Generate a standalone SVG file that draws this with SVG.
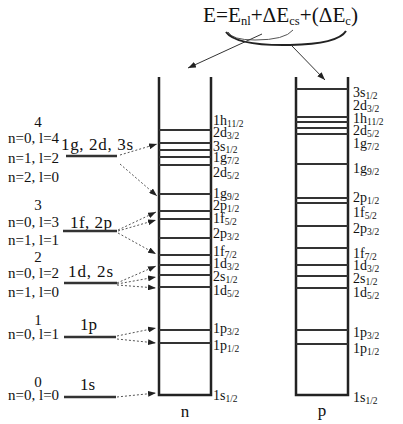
<svg xmlns="http://www.w3.org/2000/svg" width="403" height="424" viewBox="0 0 403 424">
<style>
text{font-family:"Liberation Serif","Times New Roman",serif;fill:#111}
.lv{font-size:14px}
.sb{font-size:9.5px}
.lf{font-size:15px}
.wall{stroke:#222;stroke-width:2.5;fill:none}
.lev{stroke:#333;stroke-width:2}
.osc{stroke:#333;stroke-width:2.5}
.dot{stroke:#555;stroke-width:1;stroke-dasharray:2,2;fill:none}
.sol{stroke:#333;stroke-width:1;fill:none}
</style>
<defs>
<marker id="ah" markerWidth="8" markerHeight="6" refX="8" refY="3" orient="auto" markerUnits="userSpaceOnUse">
<path d="M0,0 L8,3 L0,6 z" fill="#222"/>
</marker>
</defs>
<g id="formula">
<text x="203" y="22" font-size="22" textLength="155" lengthAdjust="spacingAndGlyphs">E=E<tspan font-size="13" dy="3">nl</tspan><tspan dy="-3">+ΔE</tspan><tspan font-size="13" dy="3">cs</tspan><tspan dy="-3">+(ΔE</tspan><tspan font-size="13" dy="3">c</tspan><tspan dy="-3">)</tspan></text>
<path d="M228,32 Q232,40 255,40 Q285,40 293,30" stroke="#555" stroke-width="1" fill="none"/>
<path d="M226,32 Q236,46 290,45 Q338,44 346,31" stroke="#222" stroke-width="2" fill="none"/>
</g>
<g id="n-well">
<path class="wall" d="M159,77 V395 H211 V77"/>
<g class="lev">
<line x1="159" y1="130" x2="211" y2="130"/><line x1="159" y1="143" x2="211" y2="143"/>
<line x1="159" y1="150" x2="211" y2="150"/><line x1="159" y1="157" x2="211" y2="157"/>
<line x1="159" y1="165" x2="211" y2="165"/><line x1="159" y1="194" x2="211" y2="194"/>
<line x1="159" y1="211" x2="211" y2="211"/><line x1="159" y1="219" x2="211" y2="219"/>
<line x1="159" y1="238" x2="211" y2="238"/><line x1="159" y1="255" x2="211" y2="255"/>
<line x1="159" y1="265" x2="211" y2="265"/><line x1="159" y1="275" x2="211" y2="275"/>
<line x1="159" y1="287" x2="211" y2="287"/><line x1="159" y1="330" x2="211" y2="330"/>
<line x1="159" y1="343" x2="211" y2="343"/>
</g>
<g class="lv">
<text x="213" y="125">1h<tspan class="sb" dy="2">11/2</tspan></text>
<text x="213" y="137">2d<tspan class="sb" dy="2">3/2</tspan></text>
<text x="213" y="151">3s<tspan class="sb" dy="2">1/2</tspan></text>
<text x="213" y="162">1g<tspan class="sb" dy="2">7/2</tspan></text>
<text x="213" y="177">2d<tspan class="sb" dy="2">5/2</tspan></text>
<text x="213" y="198">1g<tspan class="sb" dy="2">9/2</tspan></text>
<text x="213" y="210">2p<tspan class="sb" dy="2">1/2</tspan></text>
<text x="213" y="223">1f<tspan class="sb" dy="2">5/2</tspan></text>
<text x="213" y="238">2p<tspan class="sb" dy="2">3/2</tspan></text>
<text x="213" y="256">1f<tspan class="sb" dy="2">7/2</tspan></text>
<text x="213" y="268">1d<tspan class="sb" dy="2">3/2</tspan></text>
<text x="213" y="281">2s<tspan class="sb" dy="2">1/2</tspan></text>
<text x="213" y="295">1d<tspan class="sb" dy="2">5/2</tspan></text>
<text x="213" y="333">1p<tspan class="sb" dy="2">3/2</tspan></text>
<text x="213" y="350">1p<tspan class="sb" dy="2">1/2</tspan></text>
<text x="213" y="400">1s<tspan class="sb" dy="2">1/2</tspan></text>
</g>
<text x="185" y="417" font-size="17" text-anchor="middle">n</text>
</g>
<g id="p-well">
<path class="wall" d="M296,77 V395 H348 V77"/>
<g class="lev">
<line x1="296" y1="89" x2="348" y2="89"/><line x1="296" y1="117" x2="348" y2="117"/>
<line x1="296" y1="122" x2="348" y2="122"/><line x1="296" y1="128" x2="348" y2="128"/>
<line x1="296" y1="134" x2="348" y2="134"/><line x1="296" y1="164" x2="348" y2="164"/>
<line x1="296" y1="198" x2="348" y2="198"/><line x1="296" y1="203" x2="348" y2="203"/>
<line x1="296" y1="226" x2="348" y2="226"/><line x1="296" y1="248" x2="348" y2="248"/>
<line x1="296" y1="265" x2="348" y2="265"/><line x1="296" y1="276" x2="348" y2="276"/>
<line x1="296" y1="288" x2="348" y2="288"/><line x1="296" y1="330" x2="348" y2="330"/>
<line x1="296" y1="344" x2="348" y2="344"/>
</g>
<g class="lv">
<text x="353" y="97">3s<tspan class="sb" dy="2">1/2</tspan></text>
<text x="353" y="110">2d<tspan class="sb" dy="2">3/2</tspan></text>
<text x="353" y="123">1h<tspan class="sb" dy="2">11/2</tspan></text>
<text x="353" y="135">2d<tspan class="sb" dy="2">5/2</tspan></text>
<text x="353" y="148">1g<tspan class="sb" dy="2">7/2</tspan></text>
<text x="353" y="173">1g<tspan class="sb" dy="2">9/2</tspan></text>
<text x="353" y="202">2p<tspan class="sb" dy="2">1/2</tspan></text>
<text x="353" y="217">1f<tspan class="sb" dy="2">5/2</tspan></text>
<text x="353" y="233">2p<tspan class="sb" dy="2">3/2</tspan></text>
<text x="353" y="258">1f<tspan class="sb" dy="2">7/2</tspan></text>
<text x="353" y="270">1d<tspan class="sb" dy="2">3/2</tspan></text>
<text x="353" y="283">2s<tspan class="sb" dy="2">1/2</tspan></text>
<text x="353" y="297">1d<tspan class="sb" dy="2">5/2</tspan></text>
<text x="353" y="337">1p<tspan class="sb" dy="2">3/2</tspan></text>
<text x="353" y="353">1p<tspan class="sb" dy="2">1/2</tspan></text>
<text x="353" y="402">1s<tspan class="sb" dy="2">1/2</tspan></text>
</g>
<text x="322" y="416" font-size="17" text-anchor="middle">p</text>
</g>
<g id="osc4">
<text class="lf" x="38" y="127" text-anchor="middle">4</text>
<text class="lf" x="8" y="143">n=0, l=4</text>
<text class="lf" x="8" y="163">n=1, l=2</text>
<text class="lf" x="8" y="182">n=2, l=0</text>
<text x="61" y="150" font-size="17" textLength="72">1g, 2d, 3s</text>
<line class="osc" x1="66" y1="156" x2="117" y2="156"/>
</g>
<g id="osc3">
<text class="lf" x="38" y="210" text-anchor="middle">3</text>
<text class="lf" x="8" y="227">n=0, l=3</text>
<text class="lf" x="8" y="245">n=1, l=1</text>
<text x="70" y="228" font-size="17" textLength="42">1f, 2p</text>
<line class="osc" x1="63" y1="231" x2="117" y2="231"/>
</g>
<g id="osc2">
<text class="lf" x="38" y="262" text-anchor="middle">2</text>
<text class="lf" x="8" y="278">n=0, l=2</text>
<text class="lf" x="8" y="297">n=1, l=0</text>
<text x="68" y="277" font-size="17" textLength="45">1d, 2s</text>
<line class="osc" x1="64" y1="283" x2="117" y2="283"/>
</g>
<g id="osc1">
<text class="lf" x="38" y="325" text-anchor="middle">1</text>
<text class="lf" x="8" y="339">n=0, l=1</text>
<text x="80" y="330" font-size="17">1p</text>
<line class="osc" x1="64" y1="337" x2="116" y2="337"/>
</g>
<g id="osc0">
<text class="lf" x="38" y="387" text-anchor="middle">0</text>
<text class="lf" x="8" y="400">n=0, l=0</text>
<text x="80" y="390" font-size="17">1s</text>
<line class="osc" x1="64" y1="397" x2="116" y2="397"/>
</g>
<g id="connectors">
<line class="sol" x1="262" y1="34" x2="188" y2="68" marker-end="url(#ah)"/>
<line class="sol" x1="292" y1="46" x2="325" y2="80" marker-end="url(#ah)"/>
<g class="dot">
<line x1="120" y1="155" x2="157" y2="144" marker-end="url(#ah)"/>
<line x1="120" y1="164" x2="157" y2="196" marker-end="url(#ah)"/>
<line x1="118" y1="230" x2="156" y2="212" marker-end="url(#ah)"/>
<line x1="118" y1="231" x2="156" y2="220" marker-end="url(#ah)"/>
<line x1="118" y1="233" x2="156" y2="254" marker-end="url(#ah)"/>
<line x1="117" y1="283" x2="156" y2="266" marker-end="url(#ah)"/>
<line x1="117" y1="284" x2="156" y2="277" marker-end="url(#ah)"/>
<line x1="117" y1="285" x2="156" y2="288" marker-end="url(#ah)"/>
<line x1="117" y1="336" x2="156" y2="328" marker-end="url(#ah)"/>
<line x1="117" y1="339" x2="156" y2="343" marker-end="url(#ah)"/>
<line x1="117" y1="397" x2="156" y2="393" marker-end="url(#ah)"/>
</g>
</g>
</svg>
